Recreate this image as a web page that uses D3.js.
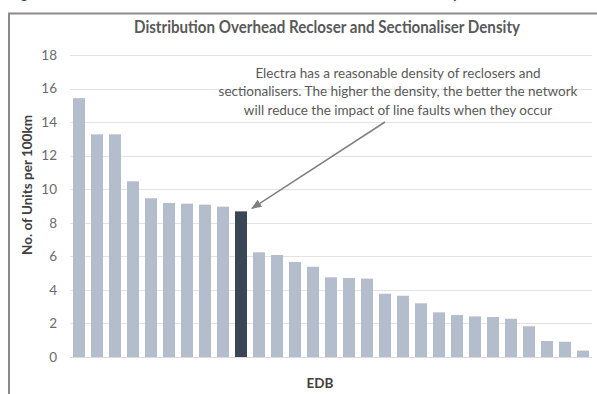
<!DOCTYPE html>
<html>
<head>
<meta charset="utf-8">
<script src="https://cdn.jsdelivr.net/npm/d3@7"></script>
<style>
  html, body { margin: 0; padding: 0; background: #fff; }
  svg { display: block; }
  text { font-family: Lato, "Open Sans", sans-serif; }
</style>
</head>
<body>
<svg id="chart" width="597" height="394"></svg>
<script>
// Distribution overhead recloser and sectionaliser density by EDB (units per 100 km)
const edbs = d3.range(1, 30).map(i => "EDB " + i);
const density = [15.43, 13.27, 13.27, 10.47, 9.46, 9.18, 9.14, 9.08, 8.96, 8.68,
                 6.24, 6.08, 5.66, 5.38, 4.75, 4.71, 4.67, 3.77, 3.65, 3.20,
                 2.66, 2.50, 2.42, 2.38, 2.28, 1.83, 0.95, 0.91, 0.38];
const highlight = "EDB 10"; // Electra
const yTicks = [0, 2, 4, 6, 8, 10, 12, 14, 16, 18];
const noteLines = [
  "Electra has a reasonable density of reclosers and",
  "sectionalisers. The higher the density, the better the network",
  "will reduce the impact of line faults when they occur"
];

const svg = d3.select("#chart");
const W = 597, H = 394;

const x = d3.scaleBand().domain(edbs).range([70, 592]).paddingInner(1 / 3).paddingOuter(1 / 6);
const y = d3.scaleLinear().domain([0, 18]).range([357, 55]);

// Figure caption above the frame (runs off the page top)
svg.append("text")
  .attr("x", 8).attr("y", -2)
  .attr("textLength", 452).attr("lengthAdjust", "spacingAndGlyphs")
  .attr("font-size", 17).attr("font-weight", 700).attr("fill", "#1c4f8a")
  .text("Figure 21: Distribution Overhead Recloser and Sectionaliser Density");

// Frame
svg.append("path")
  .attr("d", `M9,${H} V13.5 H${W}`)
  .attr("fill", "none").attr("stroke", "#8a8a8a").attr("stroke-width", 2);

// Gridlines
svg.append("g").selectAll("line").data(yTicks.filter(t => t > 0)).join("line")
  .attr("x1", 70).attr("x2", 592)
  .attr("y1", d => Math.round(y(d)) + 0.5).attr("y2", d => Math.round(y(d)) + 0.5)
  .attr("stroke", "#e3e3e3").attr("stroke-width", 1);

// Y axis labels
const yAxis = svg.append("g").attr("transform", "translate(57,0)")
  .call(d3.axisLeft(y).tickValues(yTicks).tickSize(0).tickPadding(0));
yAxis.select(".domain").remove();
yAxis.selectAll("text").attr("font-size", 13.5).attr("fill", "#6b6b6b")
  .attr("font-family", "Lato, sans-serif");

// Bars
svg.append("g").selectAll("rect").data(density).join("rect")
  .attr("x", (d, i) => x(edbs[i]))
  .attr("width", x.bandwidth())
  .attr("y", d => y(d))
  .attr("height", d => y(0) - y(d))
  .attr("fill", (d, i) => edbs[i] === highlight ? "#3a4556" : "#b3bdcb");

// Baseline
svg.append("line")
  .attr("x1", 70).attr("x2", 592).attr("y1", y(0) + 0.5).attr("y2", y(0) + 0.5)
  .attr("stroke", "#d9d9d9");

// Title
svg.append("text")
  .attr("x", 327).attr("y", 33).attr("text-anchor", "middle")
  .attr("font-size", 16.5).attr("font-weight", 700).attr("fill", "#595959")
  .attr("textLength", 386).attr("lengthAdjust", "spacingAndGlyphs")
  .text("Distribution Overhead Recloser and Sectionaliser Density");

// Axis titles
svg.append("text")
  .attr("transform", "translate(32,185) rotate(-90)")
  .attr("text-anchor", "middle").attr("font-size", 13.5).attr("font-weight", 700)
  .attr("fill", "#404040")
  .text("No. of Units per 100km");

svg.append("text")
  .attr("x", 320).attr("y", 388).attr("text-anchor", "middle")
  .attr("font-size", 13.5).attr("font-weight", 700).attr("fill", "#404040")
  .text("EDB");

// Annotation
const note = svg.append("text").attr("text-anchor", "middle")
  .attr("font-size", 13.5).attr("fill", "#595959");
noteLines.forEach((t, i) => {
  note.append("tspan").attr("x", 398).attr("y", 78 + i * 18.3).text(t);
});

// Arrow pointing at Electra's bar
const hi = edbs.indexOf(highlight);
svg.append("defs").append("marker")
  .attr("id", "arrowhead").attr("viewBox", "0 0 10 10")
  .attr("refX", 9).attr("refY", 5).attr("markerWidth", 7).attr("markerHeight", 7)
  .attr("orient", "auto")
  .append("path").attr("d", "M0,1 L10,5 L0,9 Z").attr("fill", "#808080");
svg.append("line")
  .attr("x1", 385).attr("y1", 122)
  .attr("x2", x(edbs[hi]) + x.bandwidth() + 5).attr("y2", y(density[hi]) - 3)
  .attr("stroke", "#808080").attr("stroke-width", 1.5)
  .attr("marker-end", "url(#arrowhead)");
</script>
</body>
</html>
